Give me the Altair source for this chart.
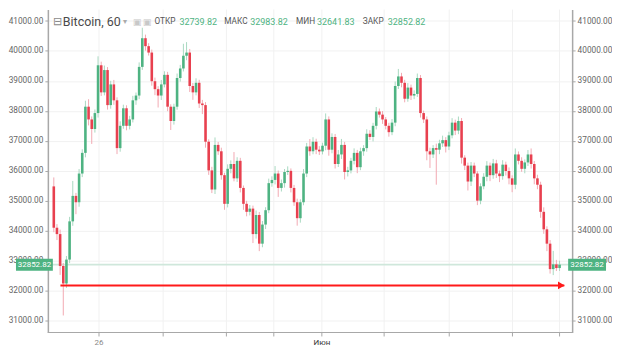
import altair as alt
import pandas as pd

# ---------------- data ----------------
first_open = 35470
closes = [
    34088, 33875, 32810, 32224, 33023, 34301, 35153, 34940, 35900, 36591,
    38135, 37709, 37390, 37922, 39520, 38614, 39360, 38188, 38880, 38348,
    36750, 37496, 38082, 37496, 37709, 38348, 38508, 39466, 40425, 40159,
    39945, 38987, 38721, 38508, 38880, 39200, 38135, 37656, 38135, 39094,
    39413, 39839, 39945, 38827, 38614, 38934, 38242, 38188, 36964, 36005,
    35366, 36857, 36644, 35845, 34887, 36058, 36218, 35739, 36325, 35419,
    34887, 34620, 34727, 33875, 34514, 33555, 34194, 34674, 35579, 35686,
    35900, 35419, 35579, 35952, 35990, 35419, 34940, 34407, 34940, 35900,
    36804, 36644, 36964, 36697, 36640, 36830, 37709, 36697, 37123, 36218,
    36538, 36857, 35952, 36005, 36325, 36591, 36112, 36644, 36750, 37230,
    37123, 37496, 37975, 37869, 37709, 37496, 37283, 37602, 38827, 39147,
    38934, 38401, 38774, 38508, 38561, 39094, 37922, 37709, 36644, 36538,
    36750, 36697, 36910, 37017, 36804, 37177, 37602, 37336, 37656, 36431,
    36165, 35633, 36165, 35900, 34993, 35473, 35792, 36165, 35845, 36239,
    35900, 35813, 36197, 35984, 35739, 35526, 36538, 36325, 36058, 36271,
    36538, 36218, 35739, 35526, 34620, 34035, 33555, 32704, 32863, 32739.82,
    32852.82,
]
up_wick = [
    300, 120, 150, 100, 120, 150, 500, 100, 150, 120,
    200, 250, 100, 120, 300, 120, 150, 100, 120, 150,
    100, 150, 120, 100, 120, 150, 100, 150, 350, 120,
    100, 100, 120, 100, 150, 120, 100, 80, 100, 150,
    120, 400, 350, 120, 100, 150, 100, 120, 100, 80,
    120, 250, 100, 120, 80, 150, 120, 400, 120, 100,
    80, 100, 120, 100, 150, 100, 120, 100, 150, 120,
    250, 100, 120, 100, 150, 80, 100, 120, 100, 150,
    120, 250, 150, 100, 120, 100, 200, 100, 120, 100,
    150, 200, 100, 120, 100, 150, 100, 120, 100, 150,
    120, 100, 150, 100, 120, 80, 100, 120, 150, 250,
    120, 100, 150, 100, 120, 150, 100, 80, 100, 120,
    100, 150, 120, 150, 100, 120, 150, 100, 150, 100,
    80, 100, 120, 100, 80, 100, 120, 150, 100, 150,
    120, 100, 150, 100, 120, 100, 200, 100, 120, 100,
    150, 200, 100, 120, 100, 150, 100, 120, 450, 150,
    131,
]
down_wick = [
    150, 200, 300, 1070, 150, 120, 150, 400, 150, 120,
    150, 200, 500, 120, 150, 120, 100, 150, 120, 150,
    200, 120, 100, 150, 120, 100, 150, 120, 100, 150,
    100, 150, 200, 400, 150, 100, 150, 300, 120, 100,
    120, 100, 150, 200, 250, 100, 150, 300, 200, 150,
    120, 150, 120, 150, 200, 120, 150, 100, 120, 150,
    200, 150, 120, 300, 150, 250, 120, 150, 100, 120,
    150, 300, 120, 150, 100, 150, 120, 250, 150, 100,
    120, 150, 100, 150, 120, 100, 150, 200, 120, 150,
    100, 150, 250, 150, 100, 120, 200, 100, 150, 120,
    100, 150, 120, 100, 150, 120, 150, 100, 120, 100,
    150, 120, 100, 150, 120, 100, 150, 120, 300, 450,
    120, 1170, 150, 120, 200, 120, 100, 150, 120, 200,
    150, 300, 150, 120, 150, 120, 100, 150, 200, 120,
    150, 200, 120, 150, 200, 250, 150, 120, 100, 150,
    120, 150, 200, 150, 200, 150, 250, 150, 200, 100,
    98,
]
y_ticks = [31000, 32000, 33000, 34000, 35000, 36000, 37000, 38000, 39000, 40000, 41000]
x_ticks = [14.3, 34.6, 54.6, 69.6, 84.8, 104.5, 125.1, 145.1, 160.0]
x_tick_labels = ["26", "", "", "", "Июн", "", "", "", ""]
last_price = 32852.82
header_names = ["ОТКР", "МАКС", "МИН", "ЗАКР"]
header_values = [32739.82, 32983.82, 32641.83, 32852.82]
symbol = "Bitcoin, 60"
arrow_level = 32160
arrow_start = 2.1
arrow_end = 161.5

# ---------------- build table ----------------
opens = [first_open] + closes[:-1]
rows = []
for i, (o, c, u, d) in enumerate(zip(opens, closes, up_wick, down_wick)):
    rows.append(dict(i=i, open=o, close=c, high=max(o, c) + u, low=min(o, c) - d,
                     dir="up" if c >= o else "down"))
df = pd.DataFrame(rows)

X_MIN, X_MAX = -0.3, 162.4
Y_MIN, Y_MAX = 30585, 41383
xs = alt.Scale(domain=[X_MIN, X_MAX], nice=False, zero=False)
ys = alt.Scale(domain=[Y_MIN, Y_MAX], nice=False, zero=False)
FONT = "Roboto"
GREEN = "#4eb382"
RED = "#e8404f"
AXIS_GRAY = "#a8a8a8"

axis_common = dict(values=y_ticks, format=".2f", title=None, labelFontSize=8.3,
                   labelFont=FONT, labelColor="#666666", domainColor=AXIS_GRAY,
                   domainWidth=1.5, tickColor=AXIS_GRAY, tickSize=3, labelPadding=2)

# ---- manual time axis (grid, ticks, labels, base line) ----
xt = pd.DataFrame({"x": x_ticks, "label": x_tick_labels, "yb": [Y_MIN] * len(x_ticks)})
vgrid = alt.Chart(xt).mark_rule(color="#f1f1f1", strokeWidth=1).encode(
    x=alt.X("x:Q", scale=xs, axis=None))
base = pd.DataFrame({"yb": [Y_MIN]})
x_domain = alt.Chart(base).mark_rule(color=AXIS_GRAY, strokeWidth=1.2).encode(
    y=alt.Y("yb:Q", scale=ys, axis=None))
x_tickmarks = alt.Chart(xt).mark_rule(color=AXIS_GRAY, strokeWidth=1, y2Offset=4).encode(
    x=alt.X("x:Q", scale=xs, axis=None),
    y=alt.Y("yb:Q", scale=ys, axis=None), y2="yb:Q")
x_labels = alt.Chart(xt).mark_text(font=FONT, fontSize=8, dy=11, baseline="middle").encode(
    x=alt.X("x:Q", scale=xs, axis=None),
    y=alt.Y("yb:Q", scale=ys, axis=None),
    text="label:N",
    color=alt.condition(alt.datum.label == "Июн", alt.value("#333333"), alt.value("#888888")))

wicks = alt.Chart(df).mark_rule(strokeWidth=1).encode(
    x=alt.X("i:Q", scale=xs, axis=None),
    y=alt.Y("low:Q", scale=ys, axis=alt.Axis(orient="left", grid=True, gridColor="#f1f1f1", **axis_common)),
    y2="high:Q",
    color=alt.Color("dir:N", scale=alt.Scale(domain=["up", "down"], range=["#a9d9c1", "#f2aab3"]), legend=None),
)

bodies = alt.Chart(df).mark_bar(size=2.6).encode(
    x=alt.X("i:Q", scale=xs, axis=None),
    y=alt.Y("open:Q", scale=ys, axis=alt.Axis(orient="right", grid=False, **axis_common)),
    y2="close:Q",
    color=alt.Color("dir:N", scale=alt.Scale(domain=["up", "down"], range=[GREEN, RED]), legend=None),
)

one = pd.DataFrame({"a": [0]})

price_line = alt.Chart(pd.DataFrame({"p": [last_price]})).mark_rule(
    color="#cfe7db", strokeWidth=1.6).encode(
    y=alt.Y("p:Q", scale=ys, axis=None))

arrow_df = pd.DataFrame({"x0": [arrow_start], "x1": [arrow_end], "y": [arrow_level]})
arrow_line = alt.Chart(arrow_df).mark_rule(color="#ff1a1a", strokeWidth=2).encode(
    x=alt.X("x0:Q", scale=xs, axis=None), x2="x1:Q",
    y=alt.Y("y:Q", scale=ys, axis=None))
arrow_head = alt.Chart(arrow_df).mark_point(
    shape="triangle-right", filled=True, size=60, color="#ff1a1a", opacity=1, xOffset=-3).encode(
    x=alt.X("x1:Q", scale=xs, axis=None),
    y=alt.Y("y:Q", scale=ys, axis=None))

lab_df = pd.DataFrame({"xl": [X_MIN], "xr": [X_MAX], "p": [last_price],
                       "t": [f"{last_price:.2f}"]})
left_box = alt.Chart(lab_df).mark_rect(color=GREEN, xOffset=-37, x2Offset=0,
                                       yOffset=-6, y2Offset=6).encode(
    x=alt.X("xl:Q", scale=xs, axis=None), x2="xl:Q",
    y=alt.Y("p:Q", scale=ys, axis=None), y2="p:Q")
right_box = alt.Chart(lab_df).mark_rect(color=GREEN, xOffset=1, x2Offset=39,
                                        yOffset=-6, y2Offset=6).encode(
    x=alt.X("xr:Q", scale=xs, axis=None), x2="xr:Q",
    y=alt.Y("p:Q", scale=ys, axis=None), y2="p:Q")
left_txt = alt.Chart(lab_df).mark_text(color="white", fontSize=8, font=FONT, dx=-18.5,
                                       baseline="middle").encode(
    x=alt.X("xl:Q", scale=xs, axis=None), y=alt.Y("p:Q", scale=ys, axis=None), text="t:N")
right_txt = alt.Chart(lab_df).mark_text(color="white", fontSize=8, font=FONT, dx=20,
                                        baseline="middle").encode(
    x=alt.X("xr:Q", scale=xs, axis=None), y=alt.Y("p:Q", scale=ys, axis=None), text="t:N")

# header
pieces = [(5, "⊟", "#8a8a8a", 11, "normal"), (15, symbol, "#4a4a4a", 12.5, "normal"),
          (75, "▾", "#aaaaaa", 8, "normal"), (85, "▣", "#c8c8c8", 9, "normal"),
          (95, "▣", "#c8c8c8", 9, "normal")]
name_x = [107, 177, 249, 316]
val_x = [132, 203, 270, 341]
for nx, vx, n, v in zip(name_x, val_x, header_names, header_values):
    pieces.append((nx, n, "#555555", 8.3, "normal"))
    pieces.append((vx, f"{v:.2f}", GREEN, 9, "normal"))
header = []
for px, txt, col, fs, fw in pieces:
    header.append(alt.Chart(one).mark_text(text=txt, color=col, fontSize=fs, font=FONT,
                                           fontWeight=fw, align="left", baseline="middle").encode(
        x=alt.value(px), y=alt.value(12)))

chart = alt.layer(
    vgrid, price_line, x_domain, x_tickmarks, x_labels, wicks, bodies, arrow_line, arrow_head,
    left_box, right_box, left_txt, right_txt, *header
).resolve_axis(y="independent").resolve_scale(color="independent").properties(
    width=526, height=324,
    padding=0,
    background="white",
).configure_view(strokeWidth=0)

chart.save("out.html", embed_options={"renderer": "svg", "actions": False})
